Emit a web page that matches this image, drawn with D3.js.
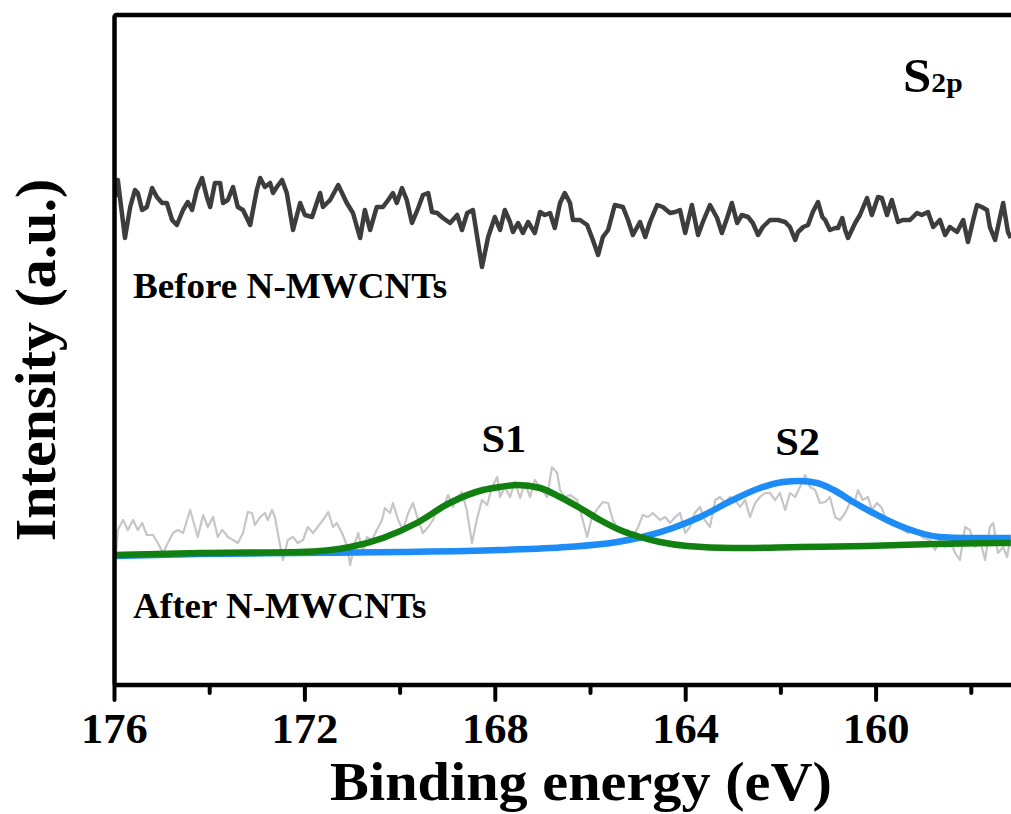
<!DOCTYPE html>
<html lang="en">
<head>
    <meta charset="UTF-8">
    <title>S2p XPS</title>
</head>
<style>
    body { margin: 0; background: #fff; }
    text { font-family: 'Liberation Serif', 'Times New Roman', serif; font-weight: bold; fill: #000; }
</style>
<body>
<div id="my_dataviz"></div>
</body>
<script src="https://cdn.jsdelivr.net/npm/d3@7"></script>
<script>
    // binding energy (eV) and intensity (a.u.)
    var beforeEnergy = [175.97,175.93,175.78,175.67,175.57,175.51,175.42,175.32,175.21,175.11,175.00,174.90,174.79,174.69,174.56,174.46,174.37,174.27,174.16,174.06,173.99,173.89,173.78,173.72,173.62,173.51,173.41,173.30,173.15,173.01,172.94,172.84,172.73,172.67,172.59,172.48,172.38,172.25,172.10,172.00,171.85,171.68,171.62,171.47,171.30,171.22,171.12,170.99,170.84,170.74,170.63,170.49,170.36,170.25,170.15,170.07,169.96,169.86,169.75,169.62,169.52,169.41,169.33,169.22,169.10,168.95,168.80,168.70,168.59,168.47,168.28,168.15,168.01,167.90,
        167.80,167.69,167.63,167.52,167.42,167.31,167.17,167.06,166.96,166.85,166.75,166.64,166.54,166.43,166.37,166.22,166.07,165.95,165.84,165.74,165.63,165.49,165.32,165.21,165.11,164.96,164.85,164.75,164.60,164.48,164.33,164.22,164.12,164.01,163.87,163.74,163.64,163.49,163.34,163.24,163.13,163.03,162.92,162.82,162.69,162.59,162.48,162.38,162.23,162.06,161.91,161.81,161.70,161.64,161.53,161.43,161.33,161.22,161.13,161.07,160.97,160.86,160.80,160.71,160.65,160.59,160.44,160.34,160.19,160.09,159.96,159.88,159.77,159.67,159.54,159.44,159.29,159.14,159.04,158.91,158.80,158.66,158.55,158.45,158.30,158.17,158.07,157.96,157.88,157.78,157.67,157.61,157.50,157.40,157.33,157.23,157.17];
    var beforeIntensity = [488,505,447,478,495,492,475,478,497,488,482,482,465,460,475,483,475,495,507,488,478,502,502,482,485,498,478,475,460,495,507,498,502,492,498,505,492,455,482,470,468,492,478,485,500,492,482,472,447,475,455,478,478,485,492,482,497,485,462,477,490,492,473,472,467,462,470,455,472,475,418,448,468,455,
        475,463,453,462,452,463,452,473,470,472,457,482,492,482,465,465,460,445,430,448,455,480,478,465,450,463,448,463,480,478,472,473,475,452,480,450,463,480,467,452,467,482,462,470,468,462,450,458,465,465,463,458,445,453,458,460,473,483,468,465,455,457,457,467,455,447,462,470,487,470,488,487,470,485,463,465,465,472,470,473,458,465,450,458,453,465,443,465,480,478,475,458,445,467,482,453,447];

    var afterEnergy = [175.99,175.93,175.82,175.72,175.61,175.51,175.42,175.32,175.19,175.09,174.98,174.88,174.77,174.67,174.56,174.41,174.31,174.25,174.14,174.04,173.93,173.83,173.74,173.68,173.62,173.51,173.41,173.30,173.20,173.11,173.05,172.94,172.84,172.78,172.69,172.63,172.57,172.46,172.36,172.25,172.15,172.04,171.94,171.83,171.73,171.62,171.51,171.41,171.33,171.22,171.12,171.05,170.95,170.88,170.78,170.70,170.59,170.49,170.38,170.32,170.21,170.15,170.04,169.94,169.83,169.73,169.62,169.52,169.41,169.31,169.20,169.10,168.99,168.89,168.78,168.70,168.60,168.49,168.39,168.28,168.17,168.07,167.96,
        167.90,167.80,167.69,167.59,167.48,167.38,167.27,167.17,167.06,166.91,166.81,166.70,166.64,166.54,166.43,166.28,166.18,166.07,165.97,165.84,165.74,165.63,165.53,165.42,165.32,165.21,165.11,165.00,164.90,164.79,164.69,164.54,164.43,164.33,164.22,164.12,164.01,163.91,163.81,163.70,163.60,163.49,163.38,163.28,163.17,163.07,162.96,162.86,162.75,162.65,162.54,162.44,162.33,162.23,162.12,162.02,161.91,161.81,161.70,161.60,161.49,161.39,161.28,161.18,161.07,160.97,160.86,160.76,160.65,160.55,160.44,160.38,160.28,160.17,160.09,159.98,159.88,159.77,159.67,159.56,159.43,159.33,159.22,159.12,159.01,158.87,158.76,158.66,158.55,158.45,158.34,158.24,158.13,158.03,157.92,157.82,157.71,157.61,157.54,157.44,157.33,157.25,157.17];
    var afterIntensity = [115,155,165,155,165,155,162,150,150,142,132,142,152,155,152,175,158,148,170,158,168,148,155,152,148,145,142,152,173,172,160,168,172,165,175,168,152,125,145,148,142,145,158,152,158,165,173,158,162,152,140,120,142,152,132,148,145,155,165,177,172,182,165,155,172,182,165,152,158,165,178,177,190,178,188,193,175,142,165,185,180,198,208,
        188,198,188,203,187,202,188,205,198,188,218,212,195,188,190,185,168,148,168,177,183,182,165,155,152,155,148,158,170,168,172,165,168,162,168,172,152,158,172,178,165,158,185,188,182,188,185,178,185,168,182,188,192,192,185,192,175,192,188,198,210,198,195,182,183,188,168,165,172,182,185,195,185,188,175,182,177,162,165,162,155,152,155,152,147,145,135,145,138,145,132,125,158,155,138,145,125,158,162,132,138,128,148];

    // fitted components, sampled along the drawn curves
    var s1Energy = [175.99,174.20,172.10,171.05,170.36,169.65,168.96,168.26,167.90,167.54,167.06,166.64,166.22,165.80,165.38,164.96,164.54,163.97,163.01,161.60,160.19,158.80,157.17];
    var s1Intensity = [130,132,133,138,147,162,182,195,198,200,197,188,177,165,155,148,143,139,137,138,139,141,142];
    var s2Energy = [175.99,174.20,172.10,170.00,167.90,166.49,165.44,164.75,164.27,163.70,163.01,162.44,161.96,161.60,161.24,160.89,160.48,160.06,159.64,159.14,158.66,158.09,157.17];
    var s2Intensity = [129,131,132,133,135,138,143,150,157,168,185,197,203,204,202,195,183,172,162,153,148,147,147];

    var majorTicks = [176, 172, 168, 164, 160, 156];
    var minorTicks = [174, 170, 166, 162, 158];
    var tickLabels = [176, 172, 168, 164, 160];

    var peakLabels = ["S1", "S2"];
    var peakLabelEnergy = [167.82, 161.65];
    var peakLabelIntensity = [233, 230];

    var W = 1011, H = 814;
    var margin = {top: 15, left: 114.5, bottom: 129};
    var width = 952, height = H - margin.top - margin.bottom;
    var stretch = 1.06; // the source figure is slightly wider than tall

    var svg = d3.select("#my_dataviz").append("svg")
        .attr("width", W).attr("height", H);

    var x = d3.scaleLinear().domain([176, 156]).range([margin.left, margin.left + width]);
    var y = d3.scaleLinear().domain([0, 670]).range([margin.top + height, margin.top]);

    svg.append("defs").append("clipPath").attr("id", "clip")
        .append("rect")
        .attr("x", margin.left).attr("y", margin.top)
        .attr("width", width).attr("height", height);

    function pairs(xs, ys) { return xs.map(function(v, i) { return [v, ys[i]]; }); }

    var rawLine = d3.line().x(function(d) { return x(d[0]); }).y(function(d) { return y(d[1]); });
    var fitLine = d3.line().x(function(d) { return x(d[0]); }).y(function(d) { return y(d[1]); })
        .curve(d3.curveMonotoneX);

    var plot = svg.append("g").attr("clip-path", "url(#clip)");

    plot.append("path").datum(pairs(beforeEnergy, beforeIntensity))
        .attr("d", rawLine)
        .style("fill", "none").style("stroke", "#3d3d3d")
        .style("stroke-width", 4.5).style("stroke-linejoin", "round");

    plot.append("path").datum(pairs(afterEnergy, afterIntensity))
        .attr("d", rawLine)
        .style("fill", "none").style("stroke", "#c6c6c6")
        .style("stroke-width", 2.2).style("stroke-linejoin", "round");

    plot.append("path").datum(pairs(s2Energy, s2Intensity))
        .attr("d", fitLine)
        .style("fill", "none").style("stroke", "#1d8cf6")
        .style("stroke-width", 6.5);

    plot.append("path").datum(pairs(s1Energy, s1Intensity))
        .attr("d", fitLine)
        .style("fill", "none").style("stroke", "#118011")
        .style("stroke-width", 6.5);

    // frame (left + top), right side runs past the window
    svg.append("rect")
        .attr("x", margin.left).attr("y", margin.top)
        .attr("width", width).attr("height", height)
        .attr("rx", 2)
        .style("fill", "none").style("stroke", "#000").style("stroke-width", 4.5);

    // bottom axis
    var axisY = margin.top + height;
    svg.append("g").selectAll("line.major").data(majorTicks).enter().append("line")
        .attr("x1", function(d) { return x(d); }).attr("x2", function(d) { return x(d); })
        .attr("y1", axisY).attr("y2", axisY + 15)
        .style("stroke", "#000").style("stroke-width", 4).style("stroke-linecap", "round");
    svg.append("g").selectAll("line.minor").data(minorTicks).enter().append("line")
        .attr("x1", function(d) { return x(d); }).attr("x2", function(d) { return x(d); })
        .attr("y1", axisY).attr("y2", axisY + 8)
        .style("stroke", "#000").style("stroke-width", 4).style("stroke-linecap", "round");

    function stretched(sel, px, py) {
        return sel.attr("transform", "translate(" + px + "," + py + ") scale(" + stretch + ",1)");
    }

    svg.append("g").selectAll("text").data(tickLabels).enter().append("text")
        .each(function(d) { stretched(d3.select(this), x(d), 743); })
        .attr("text-anchor", "middle")
        .style("font-size", "42px")
        .text(function(d) { return d; });

    stretched(svg.append("text"), 581, 800)
        .attr("text-anchor", "middle")
        .style("font-size", "55px")
        .text("Binding energy (eV)");

    svg.append("text")
        .attr("transform", "translate(55,360) rotate(-90)")
        .attr("text-anchor", "middle")
        .style("font-size", "58px")
        .text("Intensity (a.u.)");

    var s2p = stretched(svg.append("text"), 903, 92).style("font-size", "48px");
    s2p.append("tspan").text("S");
    s2p.append("tspan").style("font-size", "28px").text("2p");

    stretched(svg.append("text"), 133, 298).style("font-size", "35px").text("Before N-MWCNTs");
    stretched(svg.append("text"), 133, 618).style("font-size", "35px").text("After N-MWCNTs");

    svg.append("g").selectAll("text").data(peakLabels).enter().append("text")
        .each(function(d, i) { stretched(d3.select(this), x(peakLabelEnergy[i]), y(peakLabelIntensity[i])); })
        .attr("text-anchor", "middle")
        .style("font-size", "40px")
        .text(function(d) { return d; });
</script>
</html>
